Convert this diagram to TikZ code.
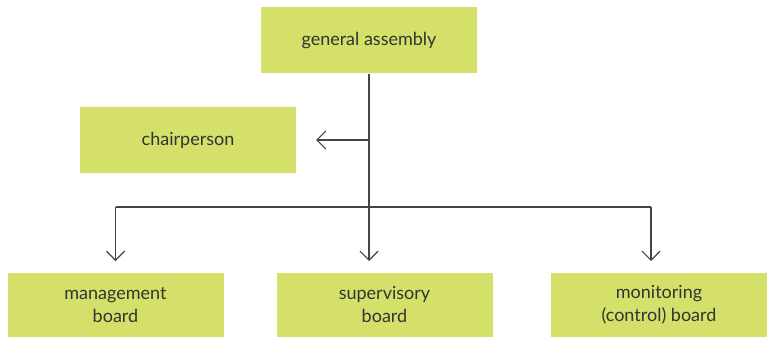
\documentclass[tikz,border=0pt]{standalone}
\usepackage{fontspec}
\setmainfont{Lato}
\usetikzlibrary{arrows.meta}
\definecolor{boxgreen}{HTML}{D4E06A}
\definecolor{txt}{HTML}{333333}
\definecolor{ln}{HTML}{444444}
\begin{document}
\begin{tikzpicture}[x=1pt,y=-1pt,
  box/.style={fill=boxgreen,draw=none,minimum width=216pt,minimum height=66pt,inner sep=0pt,
    text=txt,font=\fontsize{18}{23}\selectfont,align=center},
  lowbox/.style={box,minimum height=64pt},
  conn/.style={draw=ln,line width=1.2pt},
  arr/.style={conn,-{Straight Barb[length=9pt,width=18pt,line width=1.2pt]},shorten >=12pt}]
\useasboundingbox (0,0) rectangle (772,337);
\node[box] (ga) at (369,40.5) {general assembly};
\node[box] (chair) at (188,140) {chairperson};
\node[lowbox] (mgmt) at (115.5,305) {management\\board};
\node[lowbox] (sup) at (384.5,305) {supervisory\\board};
\node[lowbox] (mon) at (659,305) {monitoring\\(control) board};
\coordinate (j1) at (369,140);
\coordinate (jl) at (115.5,207);
\coordinate (jr) at (651,207);
\draw[arr] (ga.south) -- (369,273);
\draw[arr,shorten >=0pt] (j1) -- (316,140);
\draw[conn] (jl) -- (jr);
\draw[arr] (jl) -- (115.5,273);
\draw[arr] (jr) -- (651,273);
\end{tikzpicture}
\end{document}
